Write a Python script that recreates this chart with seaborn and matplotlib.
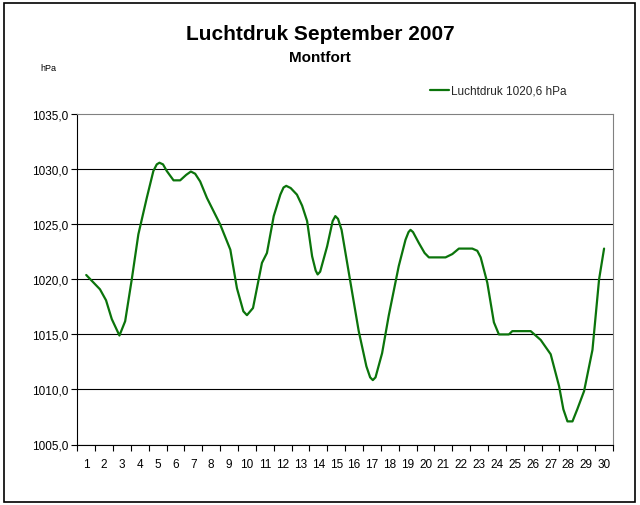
import matplotlib
matplotlib.use("Agg")
import matplotlib.pyplot as plt
import seaborn as sns
from matplotlib.patches import Rectangle
from matplotlib.ticker import FixedLocator, FuncFormatter

# Values (day of month, pressure in hPa)
days = [1.0, 1.77, 2.11, 2.43, 2.86, 3.18, 3.55, 3.92, 4.39, 4.76, 4.95, 5.1, 5.3,
        5.51, 5.89, 6.26, 6.6, 6.86, 7.1, 7.38, 7.76, 8.5, 9.07, 9.44, 9.8, 10.0,
        10.34, 10.84, 11.12, 11.5, 11.87, 12.05, 12.2, 12.45, 12.8, 13.09, 13.37,
        13.65, 13.85, 13.96, 14.1, 14.49, 14.8, 14.95, 15.1, 15.3, 15.8, 16.26,
        16.69, 16.9, 17.05, 17.2, 17.57, 17.94, 18.5, 18.88, 19.05, 19.16, 19.3,
        19.63, 19.95, 20.19, 21.12, 21.5, 21.87, 22.62, 22.9, 23.09, 23.46, 23.83,
        24.11, 24.67, 24.86, 25.89, 26.45, 27.01, 27.48, 27.72, 27.95, 28.23,
        28.5, 28.88, 29.35, 29.72, 30.0]
pressure = [1020.4, 1019.1, 1018.1, 1016.4, 1014.9, 1016.2, 1020.0, 1024.1, 1027.4,
            1029.85, 1030.45, 1030.6, 1030.45, 1029.85, 1029.0, 1029.0, 1029.5,
            1029.8, 1029.6, 1028.9, 1027.4, 1025.0, 1022.7, 1019.2, 1017.1, 1016.75,
            1017.4, 1021.5, 1022.4, 1025.75, 1027.7, 1028.35, 1028.5, 1028.3,
            1027.7, 1026.7, 1025.3, 1022.1, 1020.8, 1020.45, 1020.7, 1023.0, 1025.3,
            1025.75, 1025.5, 1024.5, 1019.7, 1015.3, 1012.1, 1011.1, 1010.85,
            1011.1, 1013.3, 1016.7, 1021.2, 1023.6, 1024.3, 1024.5, 1024.3, 1023.3,
            1022.4, 1022.0, 1022.0, 1022.3, 1022.8, 1022.8, 1022.6, 1022.0, 1019.7,
            1016.1, 1015.0, 1015.0, 1015.3, 1015.3, 1014.5, 1013.2, 1010.3, 1008.2,
            1007.1, 1007.1, 1008.2, 1009.85, 1013.6, 1020.0, 1022.8]
day_labels = [str(d) for d in range(1, 31)]
y_ticks = [1005, 1010, 1015, 1020, 1025, 1030, 1035]
series_label = "Luchtdruk 1020,6 hPa"

sns.set_theme(style="white")
plt.rcParams['font.family'] = ['Liberation Sans', 'DejaVu Sans']

fig = plt.figure(figsize=(6.4, 5.06), dpi=100)
ax = fig.add_axes([77.3 / 640, 1 - 445.5 / 506, 535.7 / 640, 330.2 / 506])

sns.lineplot(x=days, y=pressure, ax=ax, color='#0b740b', linewidth=1.6,
             label=series_label, sort=False, estimator=None)

# Axes ranges and ticks (category style x axis)
ax.set_xlim(0.5, 30.5)
ax.set_ylim(1005, 1035)
ax.xaxis.set_major_locator(FixedLocator(range(1, 31)))
ax.set_xticklabels(day_labels)
ax.xaxis.set_minor_locator(FixedLocator([i + 0.5 for i in range(0, 31)]))
ax.tick_params(axis='x', which='major', length=0, pad=10, labelsize=8.5, colors='black')
ax.tick_params(axis='x', which='minor', length=4, width=0.8, direction='out',
               color='black', bottom=True)
ax.yaxis.set_major_locator(FixedLocator(y_ticks))
ax.yaxis.set_major_formatter(FuncFormatter(lambda v, p: f"{v:.1f}".replace('.', ',')))
ax.tick_params(axis='y', length=4.5, width=0.8, direction='out', pad=2,
               labelsize=8.5, colors='black', left=True)
ax.set_xlabel("")
ax.set_ylabel("")

# Horizontal gridlines
ax.yaxis.grid(True, color='black', linewidth=0.8)
ax.set_axisbelow(True)
ax.get_ygridlines()[-1].set_visible(False)

for side in ['left', 'bottom']:
    ax.spines[side].set_color('black')
    ax.spines[side].set_linewidth(0.8)
for side in ['top', 'right']:
    ax.spines[side].set_color('#808080')
    ax.spines[side].set_linewidth(0.8)

# Titles and unit label
fig.text(0.5, 1 - 40 / 506, "Luchtdruk September 2007", ha='center', va='baseline',
         fontsize=15, fontweight='bold', color='black')
fig.text(0.5, 1 - 62 / 506, "Montfort", ha='center', va='baseline',
         fontsize=11, fontweight='bold', color='black')
fig.text(48 / 640, 1 - 71 / 506, "hPa", ha='center', va='baseline',
         fontsize=6.5, color='black')

# Legend above the plot, right side
ax.legend(loc='center left', bbox_to_anchor=(430 / 640, 1 - 92 / 506),
          bbox_transform=fig.transFigure, frameon=False, fontsize=8.5,
          handlelength=1.6, handletextpad=0.2, borderpad=0, borderaxespad=0)

# Outer chart border
fig.patches.append(Rectangle((4 / 640, 3.5 / 506), 631 / 640, 498.5 / 506,
                             transform=fig.transFigure, fill=False,
                             edgecolor='black', linewidth=1.2))

fig.savefig("out.png", dpi=100)
